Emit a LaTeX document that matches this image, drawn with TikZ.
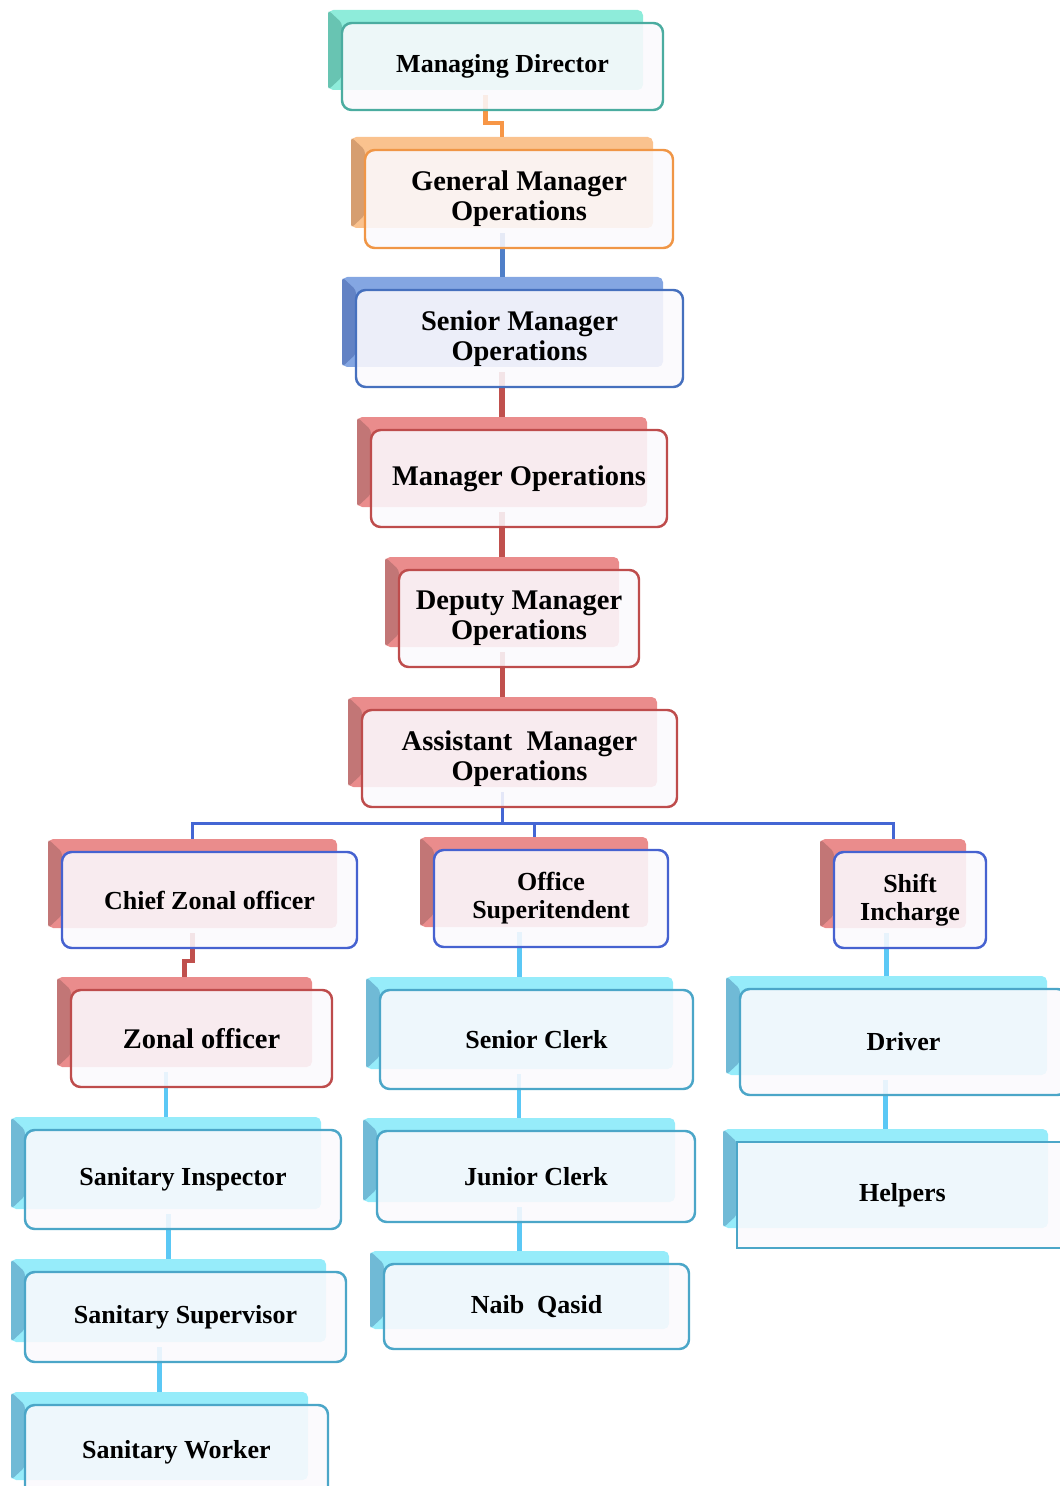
\documentclass[tikz,border=0pt]{standalone}
\usepackage{fontspec}
\setmainfont{Liberation Serif}
\usetikzlibrary{backgrounds}

\definecolor{tealBack}{RGB}{142,236,218}
\definecolor{tealBevel}{RGB}{104,196,178}
\definecolor{tealEdge}{RGB}{75,172,160}
\definecolor{orangeBack}{RGB}{250,194,142}
\definecolor{orangeBevel}{RGB}{214,158,112}
\definecolor{orangeEdge}{RGB}{240,150,70}
\definecolor{blueBack}{RGB}{132,166,226}
\definecolor{blueBevel}{RGB}{98,130,196}
\definecolor{blueEdge}{RGB}{70,112,190}
\definecolor{redBack}{RGB}{234,140,140}
\definecolor{redBevel}{RGB}{194,118,118}
\definecolor{redEdge}{RGB}{190,76,76}
\definecolor{cyanBack}{RGB}{150,236,250}
\definecolor{cyanBevel}{RGB}{112,186,214}
\definecolor{cyanEdge}{RGB}{75,166,200}
\definecolor{busEdge}{RGB}{70,98,208}
\definecolor{frontFill}{RGB}{251,249,253}
\definecolor{orangeLine}{RGB}{247,150,70}
\definecolor{blueLine}{RGB}{79,127,200}
\definecolor{redLine}{RGB}{192,80,77}
\definecolor{busLine}{RGB}{68,102,212}
\definecolor{cyanLine}{RGB}{91,200,245}

\newcommand\backDx{14}
\newcommand\backDy{13}
\newcommand\backShrink{20}

\begin{document}
\begin{tikzpicture}[x=0.02cm,y=-0.02cm,
    front/.style={draw, rounded corners=5.5pt, line width=1.4pt, fill=frontFill, fill opacity=0.88,
      text opacity=1, inner sep=0pt, align=center},
    txtbig/.style={font=\bfseries\fontsize{16.2}{17}\selectfont},
    txtsmall/.style={font=\bfseries\fontsize{14.8}{16}\selectfont},
    hpbox/.style={txtsmall, sharp corners, line width=1.6pt},
    link/.style={line width=2.4pt},
    thick link/.style={line width=3.4pt},
    bus link/.style={line width=1.7pt, color=busLine}]
    \useasboundingbox (0,0) rectangle (1059,1486);

    \foreach \name/\xa/\ya/\xb/\yb/\back/\bevel/\edge/\size/\txt in {
      md/342/23/663/110/tealBack/tealBevel/tealEdge/txtsmall/{Managing Director},
      gm/365/150/673/248/orangeBack/orangeBevel/orangeEdge/txtbig/{General Manager\\Operations},
      sm/356/290/683/387/blueBack/blueBevel/blueEdge/txtbig/{Senior Manager\\Operations},
      mo/371/430/667/527/redBack/redBevel/redEdge/txtbig/{Manager Operations},
      dm/399/570/639/667/redBack/redBevel/redEdge/txtbig/{Deputy Manager\\Operations},
      am/362/710/677/807/redBack/redBevel/redEdge/txtbig/{Assistant\ \ Manager\\Operations},
      czo/62/852/357/948/redBack/redBevel/busEdge/txtsmall/{Chief Zonal officer},
      os/434/850/668/947/redBack/redBevel/busEdge/txtsmall/{Office\\Superitendent},
      shi/834/852/986/948/redBack/redBevel/busEdge/txtsmall/{Shift\\Incharge},
      zo/71/990/332/1087/redBack/redBevel/redEdge/txtbig/{Zonal officer},
      si/25/1130/341/1229/cyanBack/cyanBevel/cyanEdge/txtsmall/{Sanitary Inspector},
      ss/25/1272/346/1362/cyanBack/cyanBevel/cyanEdge/txtsmall/{Sanitary Supervisor},
      sw/25/1405/328/1500/cyanBack/cyanBevel/cyanEdge/txtsmall/{Sanitary Worker},
      sc/380/990/693/1089/cyanBack/cyanBevel/cyanEdge/txtsmall/{Senior Clerk},
      jc/377/1131/695/1222/cyanBack/cyanBevel/cyanEdge/txtsmall/{Junior Clerk},
      nq/384/1264/689/1349/cyanBack/cyanBevel/cyanEdge/txtsmall/{Naib\ \ Qasid},
      dr/740/989/1067/1095/cyanBack/cyanBevel/cyanEdge/txtsmall/{Driver},
      hp/737/1142/1068/1248/cyanBack/cyanBevel/cyanEdge/hpbox/{Helpers}}{
      \begin{pgfonlayer}{background}
        \fill[\back, rounded corners=3pt] (\xa-\backDx,\ya-\backDy) rectangle (\xb-\backShrink,\yb-\backShrink);
        \fill[\bevel, rounded corners=2pt] (\xa-\backDx,\ya-\backDy) -- (\xa,\ya) -- (\xa,\yb-\backShrink-\backDy)
          -- (\xa-\backDx,\yb-\backShrink) -- cycle;
        \coordinate (\name-bk) at ({(\xa+\xb-\backDx-\backShrink)/2},\ya-\backDy);
      \end{pgfonlayer}
      \node[front, \size, draw=\edge, minimum width={(\xb-\xa)*0.02cm}, minimum height={(\yb-\ya)*0.02cm}]
        (\name) at ({(\xa+\xb)/2},{(\ya+\yb)/2}) {\txt};
    }

    % connectors run under the see-through front boxes
    \begin{pgfonlayer}{background}
      \draw[link, orangeLine] (md.south -| md-bk) ++(0,-16) -- ++(0,28) -| (gm-bk);
      \draw[thick link, blueLine] (sm-bk |- gm.south) ++(0,-16) -- (sm-bk);
      \foreach \up/\lo in {sm/mo, mo/dm, dm/am}{
        \draw[thick link, redLine] (\lo-bk |- \up.south) ++(0,-16) -- (\lo-bk);
      }
      \foreach \lo in {czo, os, shi}{
        \draw[bus link] (am.south -| am-bk) ++(0,-16) -- ++(0,31) -| (\lo-bk);
      }
      \draw[link, redLine] (czo.south -| czo-bk) ++(0,-16) -- ++(0,28) -| (zo-bk);
      \foreach \up/\lo in {zo/si, si/ss, ss/sw, os/sc, sc/jc, jc/nq, shi/dr, dr/hp}{
        \draw[link, cyanLine] (\lo-bk |- \up.south) ++(0,-16) -- (\lo-bk);
      }
    \end{pgfonlayer}
\end{tikzpicture}
\end{document}
